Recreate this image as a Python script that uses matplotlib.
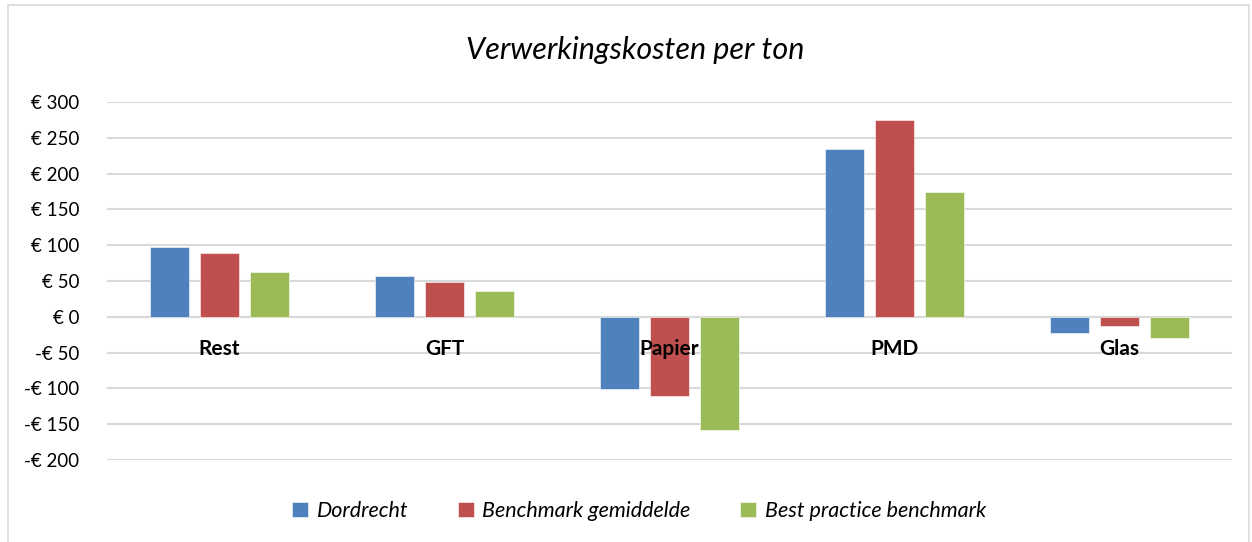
import numpy as np
import matplotlib.pyplot as plt
from matplotlib.patches import Rectangle

# -------------------------------
# DATA
# -------------------------------

categories = ["Rest", "GFT", "Papier", "PMD", "Glas"]
series_names = ["Dordrecht", "Benchmark gemiddelde", "Best practice benchmark"]
dordrecht = [98, 57, -101, 235, -23]
benchmark = [89, 48, -110, 275, -13]
best_practice = [63, 36, -158, 175, -29]
yticks = [-200, -150, -100, -50, 0, 50, 100, 150, 200, 250, 300]

colors = ["#4F81BD", "#C0504D", "#9BBB59"]

plt.rcParams["font.family"] = ["Lato", "DejaVu Sans"]

fig = plt.figure(figsize=(12.52, 5.42), dpi=100)
ax = fig.add_axes([107 / 1252, 1 - 460 / 542, 1125 / 1252, 358 / 542])

# -------------------------------
# BARS
# -------------------------------

x = np.arange(len(categories))
width = 0.173
step = 0.222
for i, (vals, name) in enumerate(zip([dordrecht, benchmark, best_practice], series_names)):
    ax.bar(x + (i - 1) * step, vals, width, color=colors[i], label=name, zorder=3,
           edgecolor="white", linewidth=0.4)

ax.set_xlim(-0.5, len(categories) - 0.5)
ax.set_ylim(-200, 300)
ax.set_yticks(yticks)
ax.set_yticklabels([f"€ {v}" if v >= 0 else f"-€ {-v}" for v in yticks], fontsize=13.5)
ax.set_xticks([])
ax.tick_params(axis="y", length=0, pad=20)
ax.grid(axis="y", color="#d9d9d9", linewidth=1.5, zorder=0)
ax.axhline(0, color="#d9d9d9", linewidth=1.5, zorder=1)
for s in ax.spines.values():
    s.set_visible(False)

# category labels next to the zero line
for xi, cat in zip(x, categories):
    ax.text(xi, -45, cat, ha="center", va="center", fontsize=15, fontweight="bold", zorder=4)

# -------------------------------
# TITLE / LEGEND / BORDER
# -------------------------------

fig.text(635 / 1252, 1 - 50 / 542, "Verwerkingskosten per ton", ha="center", va="center",
         fontsize=22, fontstyle="italic")

leg = fig.legend(loc="center", bbox_to_anchor=(639 / 1252, 1 - 511 / 542), ncol=3,
                 frameon=False, handlelength=0.75, handleheight=0.75, handletextpad=0.4,
                 columnspacing=2.3, prop={"size": 15.5, "style": "italic"})

fig.patches.append(Rectangle((8 / 1252, -0.01), 1241 / 1252, 1.0, transform=fig.transFigure,
                             fill=False, edgecolor="#d9d9d9", linewidth=1.2))

plt.savefig("out.png", dpi=100)
